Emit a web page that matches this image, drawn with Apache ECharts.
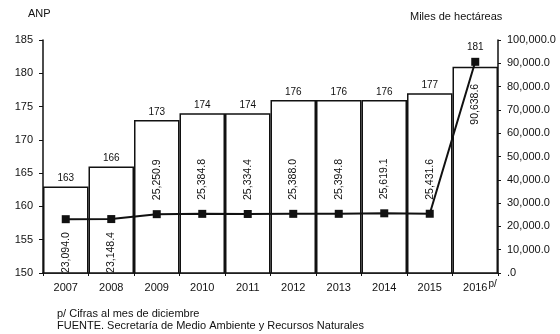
<!DOCTYPE html>
<html>
<head>
<meta charset="utf-8">
<script src="https://cdn.jsdelivr.net/npm/echarts@6/dist/echarts.min.js"></script>
<style>
  html, body { margin: 0; padding: 0; background: #fff; }
  #chart { width: 560px; height: 334px; }
</style>
</head>
<body>
<div id="chart"></div>
<script>
// Áreas Naturales Protegidas: número de áreas y superficie (miles de hectáreas)
var years = ['2007', '2008', '2009', '2010', '2011', '2012', '2013', '2014', '2015', '2016'];
var anpCount = [163, 166, 173, 174, 174, 176, 176, 176, 177, 181];
var hectares = [23094.0, 23148.4, 25250.9, 25384.8, 25334.4, 25388.0, 25394.8, 25619.1, 25431.6, 90638.6];
// where each surface label sits relative to its point
var labelSide = ['bottom', 'bottom', 'top', 'top', 'top', 'top', 'top', 'top', 'top', 'bottom'];
var leftTicks = { min: 150, max: 185, step: 5 };
var rightTicks = { min: 0, max: 100000, step: 10000 };

var FONT = 'Liberation Sans';
var INK = '#111';

function fmtThousands(v) {
  var s = v.toFixed(1);
  var parts = s.split('.');
  var intPart = parts[0].replace(/\B(?=(\d{3})+(?!\d))/g, ',');
  if (intPart === '0') intPart = '';
  return intPart + '.' + parts[1];
}

var chart = echarts.init(document.getElementById('chart'), null, { renderer: 'canvas' });

var barData = anpCount.map(function (v, i) {
  var item = { value: v };
  if (i === anpCount.length - 1) item.label = { distance: 14 };
  return item;
});

var lineData = hectares.map(function (v, i) {
  var side = labelSide[i];
  var dist = (i === hectares.length - 1) ? 18 : (side === 'top' ? 10 : 9);
  return {
    value: v,
    label: {
      position: side,
      distance: dist,
      align: side === 'top' ? 'left' : 'right',
      verticalAlign: 'middle'
    }
  };
});

chart.setOption({
  animation: false,
  backgroundColor: '#fff',
  textStyle: { fontFamily: FONT, color: INK },
  grid: { left: 43, right: 62, top: 40, bottom: 61 },
  xAxis: {
    type: 'category',
    data: years,
    boundaryGap: true,
    axisLine: { lineStyle: { color: INK, width: 1.5 } },
    axisTick: { show: true, length: 3, inside: false, lineStyle: { color: INK } },
    axisLabel: {
      interval: 0,
      color: INK,
      fontSize: 11,
      lineHeight: 18,
      margin: 6,
      formatter: function (v, i) {
        if (i === years.length - 1) return '{s|p/}{a|' + v + '}{p|p/}';
        return '{a|' + v + '}';
      },
      rich: {
        a: { fontSize: 11, lineHeight: 18, color: INK, fontFamily: FONT },
        p: { fontSize: 10, lineHeight: 18, verticalAlign: 'top', color: INK, fontFamily: FONT, padding: [0, 0, 0, 1] },
        s: { fontSize: 10, lineHeight: 18, verticalAlign: 'top', color: 'transparent', fontFamily: FONT, padding: [0, 1, 0, 0] }
      }
    },
    splitLine: { show: false }
  },
  yAxis: [
    {
      type: 'value',
      min: leftTicks.min,
      max: leftTicks.max,
      interval: leftTicks.step,
      axisLine: { show: true, lineStyle: { color: INK, width: 1.5 } },
      axisTick: { show: true, length: 4, lineStyle: { color: INK } },
      axisLabel: { color: INK, fontSize: 11, margin: 10 },
      splitLine: { show: false }
    },
    {
      type: 'value',
      min: rightTicks.min,
      max: rightTicks.max,
      interval: rightTicks.step,
      position: 'right',
      axisLine: { show: true, lineStyle: { color: INK, width: 1.5 } },
      axisTick: { show: true, length: 3, lineStyle: { color: INK } },
      axisLabel: { color: INK, fontSize: 11, margin: 9, formatter: fmtThousands },
      splitLine: { show: false }
    }
  ],
  series: [
    {
      name: 'ANP',
      type: 'bar',
      yAxisIndex: 0,
      data: barData,
      barCategoryGap: '0%',
      itemStyle: { color: '#fff', borderColor: INK, borderWidth: 1.5 },
      label: {
        show: true,
        position: 'top',
        distance: 3,
        color: INK,
        fontSize: 10,
        fontFamily: FONT
      },
      z: 1
    },
    {
      name: 'Miles de hectáreas',
      type: 'line',
      yAxisIndex: 1,
      data: lineData,
      symbol: 'rect',
      symbolSize: 8,
      itemStyle: { color: INK },
      lineStyle: { color: INK, width: 2 },
      label: {
        show: true,
        rotate: 90,
        color: INK,
        fontSize: 10.5,
        fontFamily: FONT,
        formatter: function (p) {
          return p.value.toLocaleString('en-US', { minimumFractionDigits: 1, maximumFractionDigits: 1 });
        }
      },
      z: 3
    }
  ],
  graphic: [
    { type: 'text', left: 28, top: 8, style: { text: 'ANP', font: '11px ' + FONT, fill: INK } },
    { type: 'text', left: 410, top: 11, style: { text: 'Miles de hectáreas', font: '11px ' + FONT, fill: INK } },
    { type: 'text', left: 57, top: 308, style: { text: 'p/ Cifras al mes de diciembre', font: '11px ' + FONT, fill: INK } },
    { type: 'text', left: 57, top: 320, style: { text: 'FUENTE. Secretaría de Medio Ambiente y Recursos Naturales', font: '11px ' + FONT, fill: INK } }
  ]
});
</script>
</body>
</html>
